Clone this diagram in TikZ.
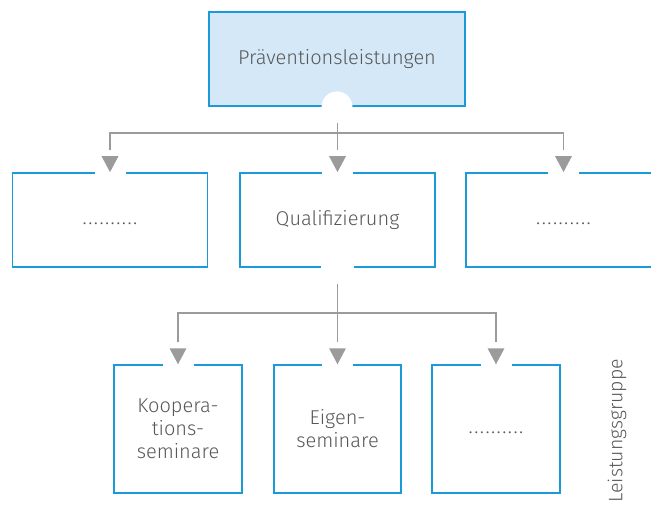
\documentclass[tikz,border=0pt]{standalone}
\usepackage{fontspec}
\setmainfont{Fira Sans Light}
\usetikzlibrary{positioning}
\definecolor{boxblue}{HTML}{1A9AD8}
\definecolor{boxfill}{HTML}{D5E8F8}
\definecolor{arrowgray}{HTML}{9B9B9B}
\definecolor{txtgray}{HTML}{585858}
\newcommand\onedot{\makebox[5.6pt]{.}}
\newcommand\dotrow{\raisebox{-3.5pt}{\vphantom{Ag}\onedot\onedot\onedot\onedot\onedot\onedot\onedot\onedot\onedot\onedot}}
\tikzset{
  box/.style={draw=boxblue, line width=1.8pt, fill=white, minimum width=#1, inner sep=0pt,
    text=txtgray, align=center, font=\fontsize{20}{23}\selectfont},
  conn/.style={draw=arrowgray, line width=1.8pt},
  arr/.pic={\fill[arrowgray] (-8.5,-16) -- (8.5,-16) -- (0,0) -- cycle;},
  gapfill/.style={fill=white}
}
\begin{document}
\begin{tikzpicture}[x=1pt,y=-1pt]
\useasboundingbox (0,0) rectangle (651,504);
\clip (0,0) rectangle (651,504);
% top box
\node[box=256pt, minimum height=94pt, fill=boxfill] (top) at (337,59) {Präventionsleistungen};
\fill[white] (top.south) circle (15.5);
% row 2
\node[box=195pt, minimum height=94pt] (a1) at (110,220) {\dotrow};
\node[box=195pt, minimum height=94pt] (a2) at (337.5,220) {Qualifizierung};
\node[box=195pt, minimum height=94pt] (a3) at (563.5,220) {\dotrow};
\fill[white] (a2.south) circle (16.5);
% row 3
\node[box=127.7pt, minimum height=127.7pt] (b1) at (178,429) {Koopera-\\tions-\\seminare};
\node[box=127.3pt, minimum height=127.7pt] (b2) at (337.5,429) {Eigen-\\seminare};
\node[box=127.3pt, minimum height=127.7pt] (b3) at (496,429) {\dotrow};
% gaps at box tops
\foreach \n in {a1,a2,a3,b1,b2,b3}{
  \fill[gapfill] ([xshift=-15.5pt,yshift=3pt]\n.north) rectangle ([xshift=15.5pt,yshift=-3pt]\n.north);
  \pic at (\n.north) {arr};
}
% connectors level 1
\coordinate (s1) at (337.5,123);
\coordinate (h1) at (337.5,133);
\draw[conn] (s1) -- ([yshift=22pt]a2.north);
\draw[conn] ([yshift=22pt]a1.north) |- (h1) -| ([yshift=22pt]a3.north);
% connectors level 2
\coordinate (s2) at (337.5,284);
\coordinate (h2) at (337.5,313);
\draw[conn] (s2) -- ([yshift=22pt]b2.north);
\draw[conn] ([yshift=22pt]b1.north) |- (h2) -| ([yshift=22pt]b3.north);
% side label
\node[rotate=90, anchor=east, text=txtgray, font=\fontsize{19.5}{23}\selectfont, inner sep=0pt] (lbl) at (617,359) {Leistungsgruppe};
\end{tikzpicture}
\end{document}
